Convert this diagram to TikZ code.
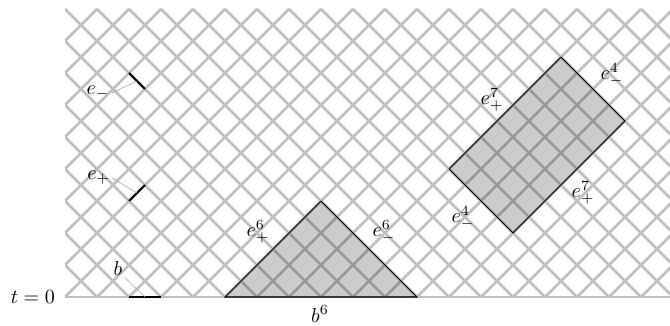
\documentclass[tikz,border=0pt]{standalone}
\usepackage{tikz}
\usetikzlibrary{positioning,calc}

\begin{document}
\begin{tikzpicture}[
  x=0.28cm,y=0.28cm,
  lattice/.style={draw=black!25,line width=1.4pt},
  region/.style={draw=black,line width=0.5pt,fill=black,fill opacity=0.2},
  edgemark/.style={draw=black,line width=0.9pt},
  pointer/.style={draw=black!35,line width=0.3pt},
  lbl/.style={inner sep=1pt,font=\normalsize}
]
\useasboundingbox (-4.0625,-1.75) rectangle (37.8125,18.5625);
% light-cone lattice
\begin{scope}
  \clip (0,0) rectangle (37.8125,18);
  \foreach \k in {-18,-16,...,38}
    \draw[lattice] (\k,0) -- ++(18,18);
  \foreach \k in {0,2,...,56}
    \draw[lattice] (\k,0) -- ++(-18,18);
\end{scope}
\draw[lattice] (0,0) -- (37.8125,0);
\node[left=1.5pt of {(0,0)},anchor=east] (tzero) {$t=0$};

% triangle over b^6
\coordinate (tl) at (10,0);
\coordinate (tt) at (16,6);
\coordinate (tr) at (22,0);
\draw[region] (tl) -- (tt) -- (tr) -- cycle;
\node[lbl] (ep6) at (12.06,4.06) {$e_+^6$};
\node[lbl] (em6) at (19.94,4.06) {$e_-^6$};
\node[lbl] (b6) at (15.94,-1.06) {$b^6$};

% rectangle
\coordinate (rb) at (28,4);
\coordinate (rr) at (35,11);
\coordinate (rt) at (31,15);
\coordinate (rl) at (24,8);
\draw[region] (rb) -- (rr) -- (rt) -- (rl) -- cycle;
\node[lbl] (ep7a) at (26.69,12.31) {$e_+^7$};
\node[lbl] (em4a) at (34.19,13.875) {$e_-^4$};
\node[lbl] (ep7b) at (32.375,6.5) {$e_+^7$};
\node[lbl] (em4b) at (24.875,4.94) {$e_-^4$};

% single edges
\coordinate (b0) at (4,0);
\coordinate (b1) at (6,0);
\coordinate (bm) at (5,0);
\draw[edgemark] (b0) -- (b1);
\coordinate (p0) at (4,6);
\coordinate (p1) at (5,7);
\draw[edgemark] (p0) -- (p1);
\coordinate (m0) at (4,14);
\coordinate (m1) at (5,13);
\draw[edgemark] (m0) -- (m1);

\node[lbl] (lb) at (3.31,1.81) {$b$};
\node[lbl] (lep) at (2.1,7.44) {$e_+$};
\node[lbl] (lem) at (2.06,12.75) {$e_-$};
\draw[pointer] (lb.south east) -- (bm);
\draw[pointer] (lep.east) -- ($(p0)!0.5!(p1)$);
\draw[pointer] (lem.east) -- ($(m0)!0.5!(m1)$);
\end{tikzpicture}
\end{document}
